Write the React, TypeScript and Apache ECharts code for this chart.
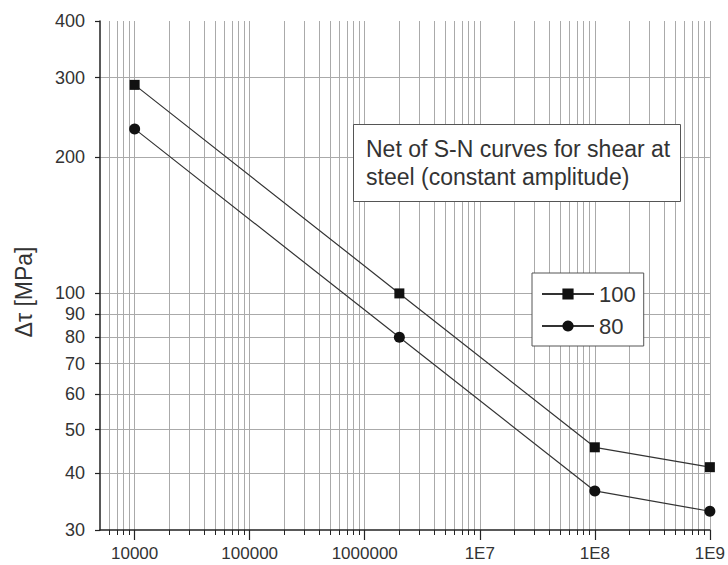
import React, { useEffect, useRef } from "react";
import * as echarts from "echarts";

// Data
const cycles = [1e4, 2e6, 1e8, 1e9];
const curve100 = [289, 100, 45.7, 41.3];
const curve80 = [231, 80, 36.6, 33];
const seriesNames = ["100", "80"];

// Axis ticks
const yTickValues = [30, 40, 50, 60, 70, 80, 90, 100, 200, 300, 400];
const yGridValues = [40, 50, 60, 70, 80, 90, 100, 200, 300];
const xMajorValues = [1e4, 1e5, 1e6, 1e7, 1e8, 1e9];
const xMajorLabels = ["10000", "100000", "1000000", "1E7", "1E8", "1E9"];
const xMultipliers = [2, 3, 4, 5, 6, 7, 8, 9];
const xDecades = [1e3, 1e4, 1e5, 1e6, 1e7, 1e8];

const xMinorValues: number[] = [];
xDecades.forEach((d) => {
  xMultipliers.forEach((m) => {
    const v = m * d;
    if (v > 5000 && v < 1e9) xMinorValues.push(v);
  });
});
const xGridValues = [...xMinorValues, ...xMajorValues];

const FONT = "'Liberation Sans', Arial, sans-serif";

export default function App() {
  const ref = useRef<HTMLDivElement>(null);
  useEffect(() => {
    if (!ref.current) return;
    const chart = echarts.init(ref.current, undefined, { renderer: "svg" });
    const labelFor = (v: number) => {
      const idx = xMajorValues.findIndex((m) => Math.abs(Math.log10(m) - Math.log10(v)) < 1e-6);
      return idx >= 0 ? xMajorLabels[idx] : "";
    };
    chart.setOption({
      animation: false,
      backgroundColor: "#fff",
      textStyle: { fontFamily: FONT },
      grid: { left: 100, top: 21, right: 16, bottom: 35 },
      title: {
        text: "Net of S-N curves for shear at\nsteel (constant amplitude)",
        left: 353,
        top: 124,
        padding: [11, 11, 11, 13],
        borderColor: "#555",
        borderWidth: 1,
        backgroundColor: "#fff",
        textStyle: {
          fontFamily: FONT,
          fontSize: 23,
          fontWeight: "normal",
          color: "#333",
          lineHeight: 28,
        },
      },
      legend: {
        data: seriesNames,
        orient: "vertical",
        left: 532,
        top: 273,
        padding: [10, 8, 9, 9],
        itemGap: 10,
        itemWidth: 52,
        itemHeight: 14,
        borderColor: "#555",
        borderWidth: 1,
        backgroundColor: "#fff",
        textStyle: { fontFamily: FONT, fontSize: 22, color: "#333" },
      },
      xAxis: [
        {
          type: "log",
          min: 5000,
          max: 1e9,
          position: "bottom",
          axisLine: { lineStyle: { color: "#222", width: 1.5 } },
          axisTick: { customValues: xMajorValues, length: 10, lineStyle: { color: "#222", width: 1.2 } },
          axisLabel: {
            customValues: xMajorValues,
            formatter: (v: number) => labelFor(v),
            fontSize: 17,
            color: "#333",
            margin: 15,
          },
          splitLine: { show: false },
        },
        {
          type: "log",
          min: 5000,
          max: 1e9,
          position: "bottom",
          axisLine: { show: false },
          axisTick: { customValues: xGridValues, length: 5, lineStyle: { color: "#222", width: 1 } },
          axisLabel: { show: false },
          splitLine: { show: true, lineStyle: { color: "#aaa", width: 1 } },
        },
      ],
      yAxis: [
        {
          type: "log",
          min: 30,
          max: 400,
          position: "left",
          axisLine: { show: true, lineStyle: { color: "#222", width: 1.5 } },
          axisTick: { show: true, customValues: yTickValues, length: 5, lineStyle: { color: "#222", width: 1.2 } },
          axisLabel: { customValues: yTickValues, fontSize: 18, color: "#333", margin: 15 },
          splitLine: { show: false },
        },
        {
          type: "log",
          min: 30,
          max: 400,
          position: "left",
          axisLine: { show: false },
          axisTick: { show: false, customValues: yGridValues },
          axisLabel: { show: false },
          splitLine: { show: true, lineStyle: { color: "#aaa", width: 1 } },
        },
      ],
      graphic: [
        {
          type: "text",
          x: 24,
          y: 292,
          rotation: Math.PI / 2,
          style: {
            text: "Δτ [MPa]",
            fontFamily: FONT,
            fontSize: 23,
            fill: "#333",
            align: "center",
            verticalAlign: "middle",
          },
        },
      ],
      series: [
        {
          name: seriesNames[0],
          type: "line",
          xAxisIndex: 0,
          yAxisIndex: 0,
          data: cycles.map((c, i) => [c, curve100[i]]),
          symbol: "rect",
          symbolSize: 10,
          itemStyle: { color: "#111" },
          lineStyle: { color: "#333", width: 1.2 },
          z: 5,
        },
        {
          name: seriesNames[1],
          type: "line",
          xAxisIndex: 0,
          yAxisIndex: 0,
          data: cycles.map((c, i) => [c, curve80[i]]),
          symbol: "circle",
          symbolSize: 11,
          itemStyle: { color: "#111" },
          lineStyle: { color: "#333", width: 1.2 },
          z: 5,
        },
      ],
    });
    return () => chart.dispose();
  }, []);
  return (
    <div
      ref={ref}
      style={{ position: "fixed", left: 0, top: 0, width: 728, height: 565 }}
    />
  );
}
